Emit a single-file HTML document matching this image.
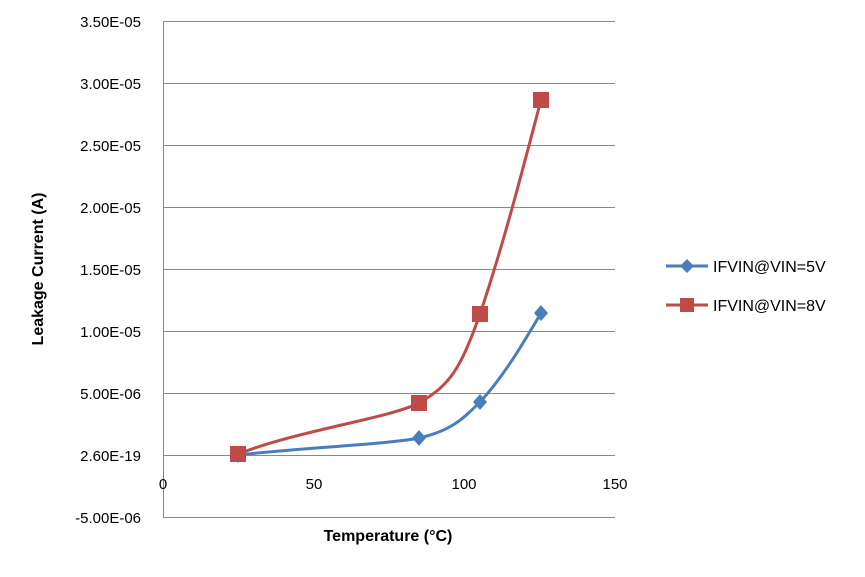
<!DOCTYPE html>
<html><head><meta charset="utf-8"><style>
html,body{margin:0;padding:0;background:#fff;}
svg text{font-family:"Liberation Sans",sans-serif;fill:#000;}
</style></head><body>
<svg width="865" height="572" viewBox="0 0 865 572" xmlns="http://www.w3.org/2000/svg">
<g stroke="#888" stroke-width="1">
<line x1="163" y1="21.5" x2="615" y2="21.5"/>
<line x1="163" y1="83.5" x2="615" y2="83.5"/>
<line x1="163" y1="145.5" x2="615" y2="145.5"/>
<line x1="163" y1="207.5" x2="615" y2="207.5"/>
<line x1="163" y1="269.5" x2="615" y2="269.5"/>
<line x1="163" y1="331.5" x2="615" y2="331.5"/>
<line x1="163" y1="393.5" x2="615" y2="393.5"/>
<line x1="163" y1="455.5" x2="615" y2="455.5"/>
<line x1="163" y1="517.5" x2="615" y2="517.5"/>
<line x1="163.5" y1="21" x2="163.5" y2="517"/>
</g>
<g font-size="15" text-anchor="end">
<text x="141" y="27">3.50E-05</text>
<text x="141" y="89">3.00E-05</text>
<text x="141" y="151">2.50E-05</text>
<text x="141" y="213">2.00E-05</text>
<text x="141" y="275">1.50E-05</text>
<text x="141" y="337">1.00E-05</text>
<text x="141" y="399">5.00E-06</text>
<text x="141" y="461">2.60E-19</text>
<text x="141" y="523">-5.00E-06</text>
</g>
<g font-size="15" text-anchor="middle">
<text x="163" y="489">0</text>
<text x="314" y="489">50</text>
<text x="464" y="489">100</text>
<text x="615" y="489">150</text>
</g>
<text x="388" y="541" font-size="16" font-weight="bold" text-anchor="middle">Temperature (°C)</text>
<text transform="translate(43,269) rotate(-90)" font-size="16" font-weight="bold" text-anchor="middle">Leakage Current (A)</text>
<path d="M238,455 C300,448 390,444 419,438 C450,431 462,420 480,402 C505,375 525,340 541,313" fill="none" stroke="#4a7ebb" stroke-width="3"/>
<path d="M238,454 C300,430 390,418 419,403 C450,385 460,370 480,314 C505,240 525,160 541,100" fill="none" stroke="#be4b48" stroke-width="3"/>
<g fill="#4a7ebb">
<path d="M238,447 l7,8 -7,8 -7,-8z"/>
<path d="M419,430 l7,8 -7,8 -7,-8z"/>
<path d="M480,394 l7,8 -7,8 -7,-8z"/>
<path d="M541,305 l7,8 -7,8 -7,-8z"/>
</g>
<g fill="#be4b48">
<rect x="230" y="446" width="16" height="16"/>
<rect x="411" y="395" width="16" height="16"/>
<rect x="472" y="306" width="16" height="16"/>
<rect x="533" y="92" width="16" height="16"/>
</g>
<line x1="666" y1="266" x2="708" y2="266" stroke="#4a7ebb" stroke-width="3"/>
<path d="M687,259 l7,7 -7,7 -7,-7z" fill="#4a7ebb"/>
<text x="713" y="272" font-size="16">IFVIN@VIN=5V</text>
<line x1="666" y1="305" x2="708" y2="305" stroke="#be4b48" stroke-width="3"/>
<rect x="680" y="298" width="14" height="14" fill="#be4b48"/>
<text x="713" y="311" font-size="16">IFVIN@VIN=8V</text>
</svg>
</body></html>
